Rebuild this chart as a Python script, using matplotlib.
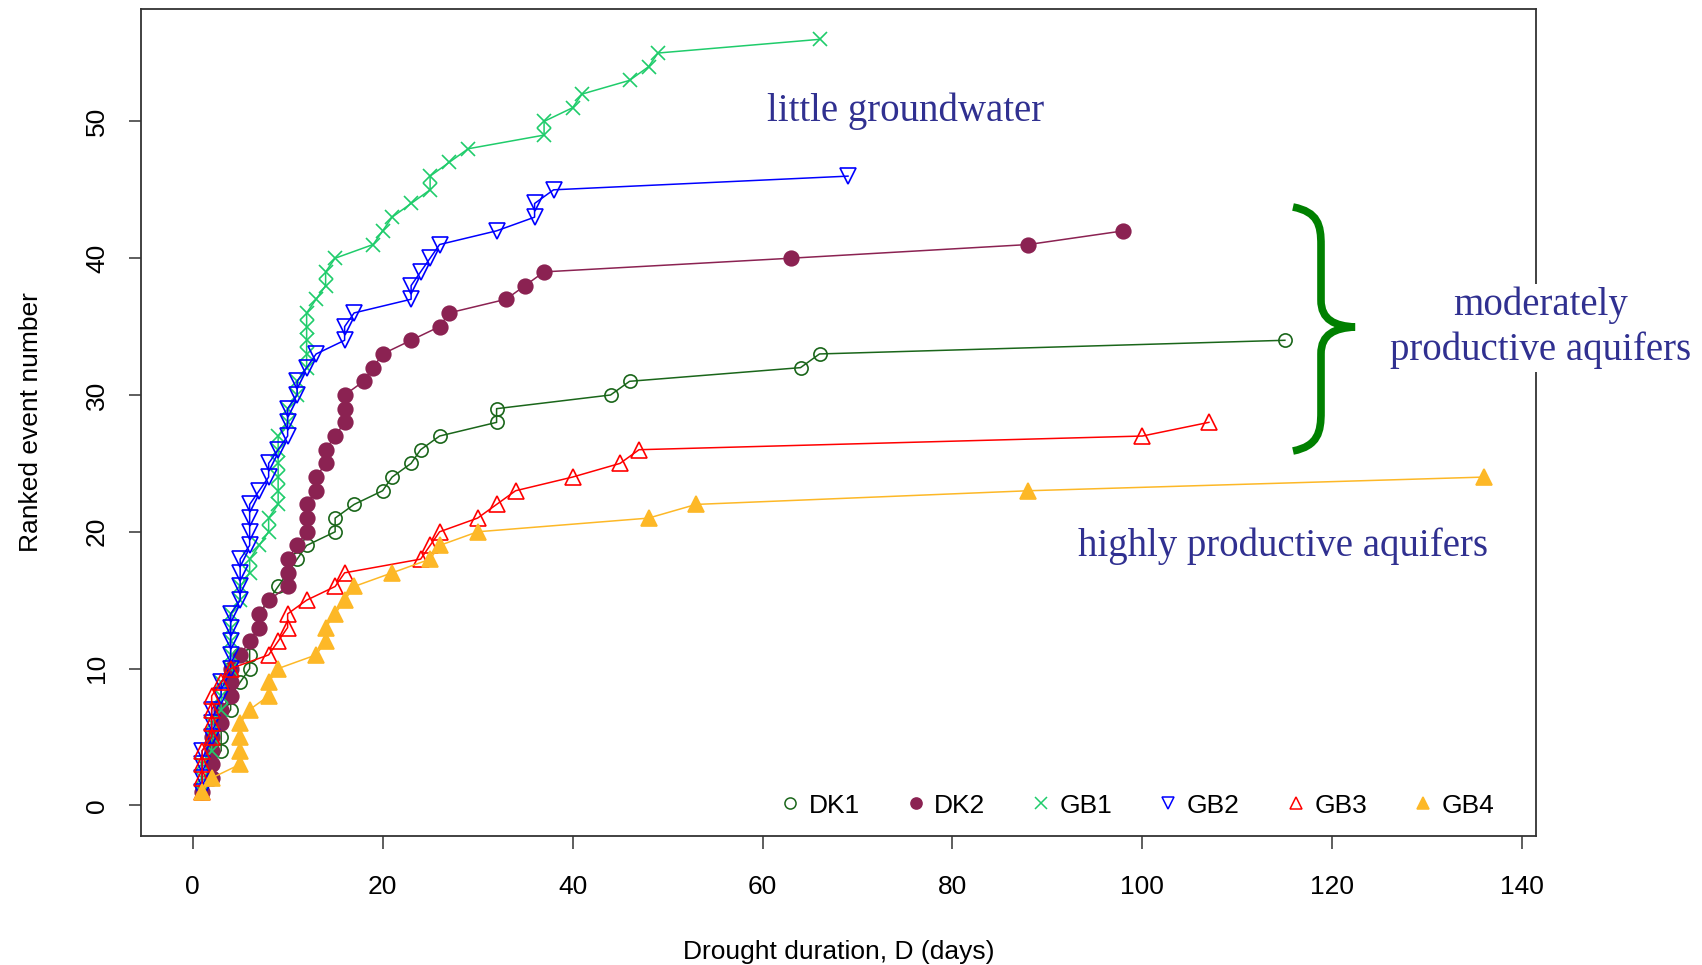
import numpy as np
import matplotlib
matplotlib.use("Agg")
import matplotlib.pyplot as plt
from matplotlib.lines import Line2D
from matplotlib.path import Path
from matplotlib.patches import PathPatch

# drought durations (days), sorted; rank of each event is its position 1..N
dk1 = [1, 2, 2, 3, 3, 3, 4, 4, 5, 6, 6, 6, 7, 7, 8, 9, 10, 11, 12, 15, 15, 17,
       20, 21, 23, 24, 26, 32, 32, 44, 46, 64, 66, 115]
dk2 = [1, 2, 2, 2, 2, 3, 3, 4, 4, 4, 5, 6, 7, 7, 8, 10, 10, 10, 11, 12, 12, 12,
       13, 13, 14, 14, 15, 16, 16, 16, 18, 19, 20, 23, 26, 27, 33, 35, 37, 63, 88, 98]
gb1 = [1, 1, 1, 2, 2, 2, 3, 3, 3, 4, 4, 4, 4, 4, 5, 5, 6, 6, 7, 8, 8, 9, 9, 9,
       9, 9, 9, 10, 10, 11, 11, 12, 12, 12, 12, 12, 13, 14, 14, 15, 19, 20, 21,
       23, 25, 25, 27, 29, 37, 37, 40, 41, 46, 48, 49, 66]
gb2 = [1, 1, 1, 1, 2, 2, 2, 3, 3, 4, 4, 4, 4, 4, 5, 5, 5, 5, 6, 6, 6, 6, 7, 8,
       8, 9, 10, 10, 10, 11, 11, 12, 13, 16, 16, 17, 23, 23, 24, 25, 26, 32, 36,
       36, 38, 69]
gb3 = [1, 1, 1, 1, 2, 2, 2, 2, 3, 4, 8, 9, 10, 10, 12, 15, 16, 24, 25, 26, 30,
       32, 34, 40, 45, 47, 100, 107]
gb4 = [1, 2, 5, 5, 5, 5, 6, 8, 8, 9, 13, 14, 14, 15, 16, 17, 21, 25, 26, 30, 48,
       53, 88, 136]

names = ["DK1", "DK2", "GB1", "GB2", "GB3", "GB4"]
series = [dk1, dk2, gb1, gb2, gb3, gb4]
colors = ["#1a661a", "#8b2252", "#1fcc6b", "#0000ff", "#ff0000", "#fdb827"]
markers = ["o", "o", "x", "v", "^", "^"]
filled = [False, True, False, False, False, True]
msizes = [9.5, 10.5, 9.5, 11, 11, 11]

W, H = 1702, 965
fig = plt.figure(figsize=(W / 100, H / 100), dpi=100)
ax = fig.add_axes([141 / W, 1 - 836 / H, (1536 - 141) / W, (836 - 8.7) / H])

for d, c, m, f, ms in zip(series, colors, markers, filled, msizes):
    rank = np.arange(1, len(d) + 1)
    ax.plot(d, rank, color=c, lw=1.1, marker=m, ms=ms, mew=1.2,
            mfc=c if f else "none", mec=c)

ax.set_xlim(-5.44, 141.44)
ax.set_ylim(-2.24, 58.24)
ax.set_xticks(range(0, 141, 20))
ax.set_yticks(range(0, 51, 10))

sans = "Liberation Sans"
ax.tick_params(direction="out", length=9, width=1.1, colors="#333333",
               labelcolor="black", labelsize=19)
ax.tick_params(axis="x", pad=19)
ax.tick_params(axis="y", pad=14)
for lab in ax.get_xticklabels() + ax.get_yticklabels():
    lab.set_family(sans)
for lab in ax.get_yticklabels():
    lab.set_rotation(90)
    lab.set_va("center")
for s in ax.spines.values():
    s.set_color("#333333")
    s.set_linewidth(1.3)

ax.set_xlabel("Drought duration, D (days)", fontsize=19, family=sans)
ax.set_ylabel("Ranked event number", fontsize=19, family=sans)
ax.xaxis.set_label_coords(0.5, -0.14)
ax.yaxis.set_label_coords(-0.079, 0.5)
ax.xaxis.label.set_va("center")
ax.yaxis.label.set_va("center")

handles = [Line2D([], [], ls="none", marker=m, ms=8, mew=1.1, color=c,
                  mfc=c if f else "none", mec=c)
           for c, m, f in zip(colors, markers, filled)]
ax.legend(handles, names, ncol=6, loc="center right",
          bbox_to_anchor=(0.970, 0.0367), frameon=False,
          prop={"family": sans, "size": 19}, handlelength=0.8,
          handletextpad=0.3, columnspacing=1.72, borderpad=0, borderaxespad=0)

# annotations
serif = "Liberation Serif"
tcol = "#303090"


def fxy(px, py):
    return px / W, 1 - py / H


fig.text(*fxy(906, 111), "little groundwater", fontsize=28, family=serif,
         color=tcol, ha="center", va="center")
fig.text(*fxy(1283, 546), "highly productive aquifers", fontsize=28,
         family=serif, color=tcol, ha="center", va="center")
fig.text(*fxy(1541, 328), "moderately\nproductive aquifers", fontsize=28,
         family=serif, color=tcol, ha="center", va="center",
         linespacing=1.25, multialignment="center",
         bbox=dict(facecolor="white", edgecolor="none", pad=2))

# curly brace
pts = [(1293, 207), (1318, 212), (1321, 225), (1321, 245),
       (1321, 300),
       (1321, 320), (1335, 326), (1355, 327),
       (1335, 328), (1321, 334), (1321, 354),
       (1321, 412),
       (1321, 432), (1318, 446), (1293, 451)]
codes = [Path.MOVETO, Path.CURVE4, Path.CURVE4, Path.CURVE4,
         Path.LINETO,
         Path.CURVE4, Path.CURVE4, Path.CURVE4,
         Path.CURVE4, Path.CURVE4, Path.CURVE4,
         Path.LINETO,
         Path.CURVE4, Path.CURVE4, Path.CURVE4]
brace = Path([fxy(x, y) for x, y in pts], codes)
fig.patches.append(PathPatch(brace, transform=fig.transFigure, fill=False,
                             edgecolor="#008000", lw=5.5, capstyle="butt"))

fig.savefig("out.png", dpi=100)
